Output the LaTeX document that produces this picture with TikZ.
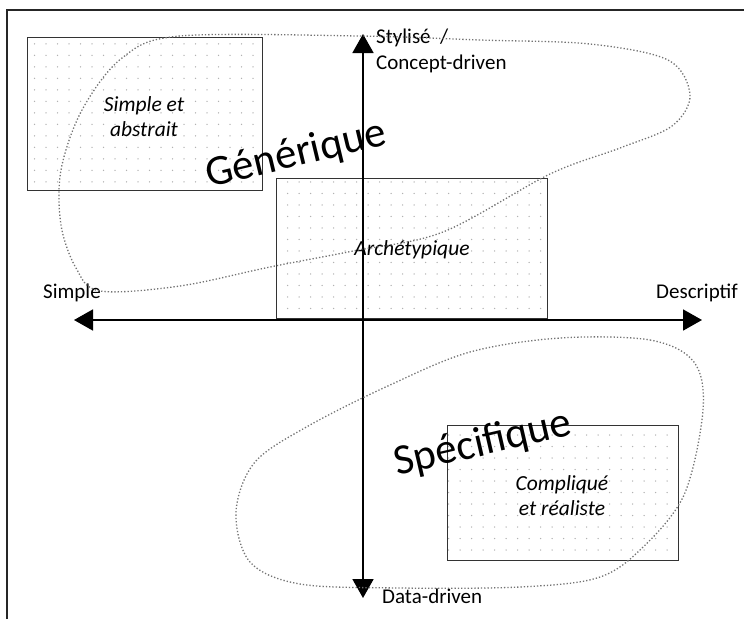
\documentclass[tikz,border=0pt]{standalone}
\usepackage{fontspec}
\setmainfont{Carlito}
\usetikzlibrary{arrows.meta,patterns.meta}

\tikzset{
    zone/.style={draw=black!80, line width=0.9pt, pattern={Dots[distance=11.5pt,radius=0.75pt]},
        pattern color=black!30, inner sep=0pt},
    axe/.style={line width=1.8pt, {Triangle[length=19pt,width=21pt]}-{Triangle[length=19pt,width=21pt]}},
    contour/.style={black!55, dotted, line width=1.3pt},
    etiq/.style={font=\fontsize{21}{24}\selectfont, inner sep=0pt},
    cas/.style={font=\fontsize{21.5}{25}\selectfont\itshape, align=center, inner sep=0pt},
    grand/.style={font=\fontsize{43}{45}\selectfont, inner sep=0pt}
}

\begin{document}
\begin{tikzpicture}[x=1pt,y=-1pt]
    \useasboundingbox (0,0) rectangle (744,619);
    \draw[line width=1.4pt, black!85] (7,619) -- (7,10) -- (744,10);

    \node[zone, minimum width=235pt, minimum height=153pt] (abstrait) at (144.5,113.5) {};
    \node[zone, minimum width=271pt, minimum height=140pt] (archetype) at (411.5,248) {};
    \node[zone, minimum width=231pt, minimum height=135pt] (realiste) at (562.5,492.5) {};
    \node[cas] (tabstrait) at (144,117) {Simple et\\abstrait};
    \node[cas] (tarchetype) at (412,250) {Archétypique};
    \node[cas] (trealiste) at (562,496) {Compliqué\\et réaliste};

    % axes
    \coordinate (gauche) at (74,320);
    \coordinate (droite) at (702,320);
    \coordinate (haut) at (363,34);
    \coordinate (bas) at (363,598);
    \draw[axe] (gauche) -- (droite);
    \draw[axe] (bas) -- (haut);

    \node[etiq] (simple) at (72,293) {Simple};
    \node[etiq] (descriptif) at (697,293) {Descriptif};
    \node[etiq, anchor=west] (stylise) at (376,38) {Stylisé\ \ /};
    \node[etiq, anchor=west] (concept) at (376,64) {Concept-driven};
    \node[etiq, anchor=west] (data) at (382,596) {Data-driven};

    % zones dotted
    \draw[contour] plot[smooth cycle, tension=0.55] coordinates {
        (100,291) (180,286) (270,267) (353,251) (443,232) (550,174) (620,148)
        (672,126) (690,95) (668,60) (590,44) (480,40) (360,36) (180,36)
        (122,58) (82,110) (61,170) (61,225) (76,268)};
    \draw[contour] plot[smooth cycle, tension=0.55] coordinates {
        (560,338) (650,340) (694,362) (703,410) (684,495) (640,550) (597,578)
        (520,587) (400,588) (300,584) (250,562) (236,512) (255,462) (310,425)
        (390,385) (470,352)};

    \node[grand, rotate=13.5] (generique) at (296,155) {Générique};
    \node[grand, rotate=13] (specifique) at (483,444) {Spécifique};
\end{tikzpicture}
\end{document}
